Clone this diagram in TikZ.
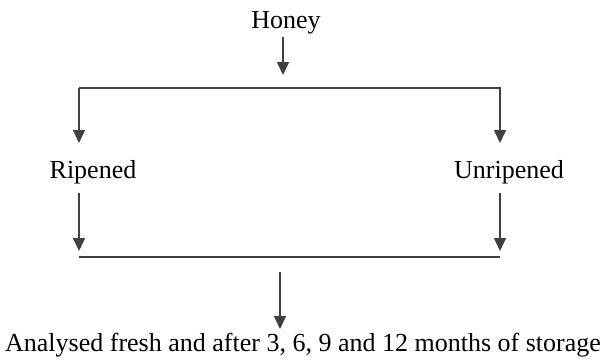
\documentclass[tikz,border=0pt]{standalone}
\usepackage{fontspec}
\setmainfont{Liberation Serif}
\usetikzlibrary{arrows.meta}
\begin{document}
\begin{tikzpicture}[x=1pt,y=-1pt,
  lbl/.style={inner sep=0pt,font=\fontsize{26}{29}\selectfont},
  ln/.style={draw=black!75,line width=1.6pt},
  arr/.style={ln,-{Triangle[width=12pt,length=13pt]}}]
\useasboundingbox (0,0) rectangle (607,360);
\node[lbl] (honey) at (286,23) {Honey};
\node[lbl] (rip) at (93,172) {Ripened};
\node[lbl] (unrip) at (509,172) {Unripened};
\node[lbl] (res) at (303,345) {Analysed fresh and after 3, 6, 9 and 12 months of storage};
% coordinates
\coordinate (h1) at (283,37);
\coordinate (h2) at (283,75);
\coordinate (tl) at (79,88);
\coordinate (tr) at (500,88);
\coordinate (la) at (79,143);
\coordinate (ra) at (500,143);
\coordinate (lb1) at (79,193);
\coordinate (lb2) at (79,251);
\coordinate (rb1) at (500,193);
\coordinate (rb2) at (500,251);
\coordinate (bl) at (79,257);
\coordinate (br) at (500,257);
\coordinate (d1) at (280,272);
\coordinate (d2) at (280,329);
\draw[arr] (h1) -- (h2);
\draw[arr] (tl) -- (tr) -- (ra);
\draw[arr] (tl) -- (la);
\draw[arr] (lb1) -- (lb2);
\draw[arr] (rb1) -- (rb2);
\draw[ln] (bl) -- (br);
\draw[arr] (d1) -- (d2);
\end{tikzpicture}
\end{document}
